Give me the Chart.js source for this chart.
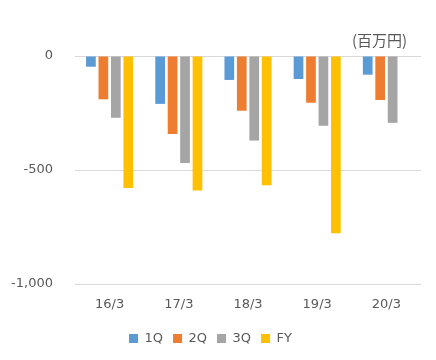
<!DOCTYPE html>
<html>
<head>
<meta charset="utf-8">
<script src="https://cdn.jsdelivr.net/npm/chart.js@4/dist/chart.umd.min.js"></script>
<style>
  body { margin: 0; background: #fff; }
  #wrap { position: relative; width: 436px; height: 360px; }
  #unit { position: absolute; left: 352px; top: 29px; font: 15px "Noto Sans CJK JP", sans-serif; color: #595959; }
</style>
</head>
<body>
<div id="wrap">
  <canvas id="barChart" width="436" height="360"></canvas>
  <div id="unit">(百万円)</div>
</div>
<script>
  var categories = ["16/3", "17/3", "18/3", "19/3", "20/3"];
  var q1 = [-47, -210, -105, -101, -82];
  var q2 = [-190, -342, -240, -205, -193];
  var q3 = [-271, -469, -371, -306, -293];
  var fy = [-579, -590, -567, -777, null];
  var seriesNames = ["1Q", "2Q", "3Q", "FY"];
  var barColors = ["#5B9BD5", "#ED7D31", "#A5A5A5", "#FFC000"];

  var allData = [q1, q2, q3, fy];
  var sets = [];
  for (var i = 0; i < allData.length; i++) {
    sets.push({
      label: seriesNames[i],
      data: allData[i],
      backgroundColor: barColors[i],
      borderWidth: 0,
      categoryPercentage: 0.72,
      barPercentage: 0.78
    });
  }

  var txt = "#595959";
  var barchart = new Chart("barChart", {
    type: "bar",
    data: { labels: categories, datasets: sets },
    options: {
      responsive: false,
      animation: false,
      layout: { padding: { top: 56, right: 15, left: 0, bottom: 5 } },
      plugins: {
        tooltip: { enabled: false },
        legend: {
          position: "bottom",
          labels: {
            boxWidth: 9, boxHeight: 9, padding: 10, color: txt,
            font: { family: "DejaVu Sans", size: 13 }
          }
        }
      },
      scales: {
        x: {
          afterFit: function (s) { s.height = 38; },
          grid: { display: false, drawTicks: false },
          border: { display: false },
          ticks: { color: txt, padding: 13, font: { family: "DejaVu Sans", size: 13 } }
        },
        y: {
          min: -1000, max: 0,
          afterFit: function (s) { s.width = 75; },
          grid: { color: "#d9d9d9", drawTicks: false },
          border: { display: false },
          ticks: {
            stepSize: 500, color: txt, padding: 22,
            font: { family: "DejaVu Sans", size: 13 },
            callback: function (v) { return v.toLocaleString("en-US"); }
          }
        }
      }
    }
  });
</script>
</body>
</html>
